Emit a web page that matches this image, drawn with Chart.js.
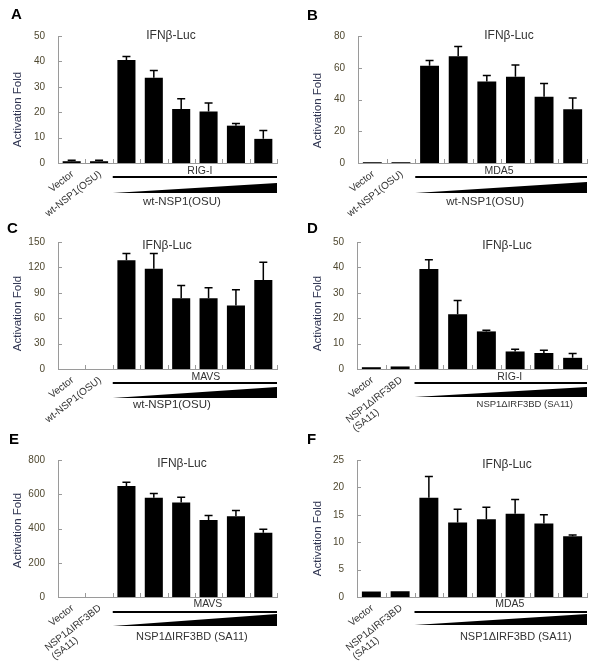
<!DOCTYPE html>
<html>
<head>
<meta charset="utf-8">
<script src="https://cdn.jsdelivr.net/npm/chart.js@4"></script>
<style>
  body { margin: 0; background: #fff; }
  #wrap { position: relative; width: 600px; height: 668px; background: #fff; }
  #wrap canvas { position: absolute; }
  .letter { position: absolute; font: bold 15px "Liberation Sans", Arial, sans-serif; line-height: 15px; color: #000; }
</style>
</head>
<body>
<div id="wrap"></div>
<script>
// values
var categoriesOSU = ['Vector', 'wt-NSP1(OSU)', '', '', '', '', '', ''];
var categoriesSA11 = ['Vector', ['NSP1ΔIRF3BD', '(SA11)'], '', '', '', '', '', ''];

var valuesA = [0.7, 0.7, 40.6, 33.6, 21.3, 20.3, 14.7, 9.5];
var errorsA = [0.4, 0.4, 1.3, 2.8, 4.0, 3.3, 0.9, 3.3];
var valuesB = [0.5, 0.5, 61.3, 67.2, 51.4, 54.3, 41.8, 33.8];
var errorsB = [0, 0, 3.3, 6.2, 3.7, 7.5, 8.3, 7.2];
var valuesC = [0, 0, 128.5, 118.5, 83.5, 83.5, 75, 105];
var errorsC = [0, 0, 8, 18, 15, 12.5, 18.5, 21];
var valuesD = [0.7, 1.0, 39.4, 21.6, 14.8, 6.9, 6.3, 4.4];
var errorsD = [0, 0, 3.6, 5.4, 0.5, 0.9, 1.1, 1.7];
var valuesE = [0, 0, 648, 580, 552, 449, 472, 375];
var errorsE = [0, 0, 22, 25, 30, 27, 33, 21];
var valuesF = [1.0, 1.05, 18.1, 13.6, 14.2, 15.2, 13.4, 11.1];
var errorsF = [0, 0, 3.9, 2.4, 2.2, 2.6, 1.6, 0.2];

var yMaxes = [50, 80, 150, 50, 800, 25];
var ySteps = [10, 20, 30, 10, 200, 5];
var stimulusLabels = ['RIG-I', 'MDA5', 'MAVS', 'RIG-I', 'MAVS', 'MDA5'];
var wedgeLabels = ['wt-NSP1(OSU)', 'wt-NSP1(OSU)', 'wt-NSP1(OSU)',
  'NSP1ΔIRF3BD (SA11)', 'NSP1ΔIRF3BD (SA11)', 'NSP1ΔIRF3BD (SA11)'];
var panelLetters = ['A', 'B', 'C', 'D', 'E', 'F'];

var FONT = '"Liberation Sans", Arial, sans-serif';

// where each panel sits on the page
var panels = [
  { cats: categoriesOSU, vals: valuesA, errs: errorsA, left: 0, top: 0, h: 220, axisX: 58, right: 277, areaTop: 36, areaBottom: 163,
    luc: [113, 0], titleDy: 10, letter: [11, 6],
    anno: { lab: 8, line: 14, wb: 30, wt: 20, txt: 39, labDx: 5, txtDx: -13, font: 11.5 } },
  { cats: categoriesOSU, vals: valuesB, errs: errorsB, left: 300, top: 0, h: 220, axisX: 58, right: 287, areaTop: 36, areaBottom: 163,
    luc: [151, 0], titleDy: 11, letter: [307, 7],
    anno: { lab: 8, line: 14, wb: 30, wt: 19, txt: 39, labDx: -2, txtDx: -16, font: 11.5 } },
  { cats: categoriesOSU, vals: valuesC, errs: errorsC, left: 0, top: 220, h: 220, axisX: 58, right: 277, areaTop: 22, areaBottom: 149,
    luc: [109, 4], titleDy: 8, letter: [7, 220],
    anno: { lab: 8, line: 14, wb: 29, wt: 18, txt: 36, labDx: 11, txtDx: -23, font: 11.5 } },
  { cats: categoriesSA11, vals: valuesD, errs: errorsD, left: 300, top: 220, h: 220, axisX: 57, right: 287, areaTop: 22, areaBottom: 149,
    luc: [150, 4], titleDy: 8, letter: [307, 220],
    anno: { lab: 8, line: 14, wb: 28, wt: 18, txt: 35, labDx: 9, txtDx: 24, font: 9.5 } },
  { cats: categoriesSA11, vals: valuesE, errs: errorsE, left: 0, top: 440, h: 228, axisX: 58, right: 277, areaTop: 20, areaBottom: 157,
    luc: [124, 4], titleDy: 2, letter: [9, 431],
    anno: { lab: 7, line: 15, wb: 29, wt: 17, txt: 40, labDx: 13, txtDx: -3, font: 11 } },
  { cats: categoriesSA11, vals: valuesF, errs: errorsF, left: 300, top: 440, h: 228, axisX: 57, right: 287, areaTop: 20, areaBottom: 157,
    luc: [150, 5], titleDy: 10, letter: [307, 431],
    anno: { lab: 7, line: 15, wb: 28, wt: 17, txt: 40, labDx: 9, txtDx: 15, font: 11 } }
];

var annotPlugin = {
  id: 'annot',
  afterDatasetsDraw: function (chart, args, o) {
    var ctx = chart.ctx, xs = chart.scales.x, ys = chart.scales.y, a = chart.chartArea;
    var ds = chart.data.datasets[0];
    var meta = chart.getDatasetMeta(0);
    ctx.save();
    // error bars (upper half only)
    ctx.strokeStyle = '#000';
    ctx.lineWidth = 1.5;
    meta.data.forEach(function (bar, i) {
      var e = ds.errors[i];
      if (!e) return;
      var y0 = ys.getPixelForValue(ds.data[i]);
      var y1 = ys.getPixelForValue(ds.data[i] + e);
      ctx.beginPath();
      ctx.moveTo(bar.x, y0); ctx.lineTo(bar.x, y1);
      ctx.moveTo(bar.x - 4, y1); ctx.lineTo(bar.x + 4, y1);
      ctx.stroke();
    });
    // tick marks point inward
    ctx.strokeStyle = '#9a9a9a';
    ctx.lineWidth = 1;
    ys.ticks.forEach(function (t) {
      var py = Math.round(ys.getPixelForValue(t.value)) + 0.5;
      ctx.beginPath(); ctx.moveTo(a.left, py); ctx.lineTo(a.left + 4, py); ctx.stroke();
    });
    var n = chart.data.labels.length;
    for (var i = 1; i <= n; i++) {
      var px = i < n ? (xs.getPixelForValue(i - 1) + xs.getPixelForValue(i)) / 2 : a.right;
      px = Math.round(px) + 0.5;
      ctx.beginPath(); ctx.moveTo(px, a.bottom); ctx.lineTo(px, a.bottom - 4); ctx.stroke();
    }
    ctx.restore();
  },
  afterDraw: function (chart, args, o) {
    var ctx = chart.ctx, xs = chart.scales.x, a = chart.chartArea;
    ctx.save();
    ctx.fillStyle = '#333';

    // IFNb-Luc
    ctx.font = '12px ' + FONT;
    ctx.textAlign = 'center';
    ctx.textBaseline = 'middle';
    ctx.fillText('IFNβ-Luc', a.left + o.luc[0], a.top + o.luc[1]);

    // y title
    ctx.save();
    ctx.translate(18, (a.top + a.bottom) / 2 + o.titleDy);
    ctx.rotate(-Math.PI / 2);
    ctx.font = '11.5px ' + FONT;
    ctx.fillStyle = '#2e3350';
    ctx.fillText('Activation Fold', 0, 0);
    ctx.restore();

    // rotated category labels
    chart.data.labels.forEach(function (lab, i) {
      if (!lab || lab === '') return;
      var lines = Array.isArray(lab) ? lab : [lab];
      ctx.save();
      ctx.translate(xs.getPixelForValue(i) + 1, a.bottom + 10);
      ctx.rotate(-38 * Math.PI / 180);
      ctx.font = '10px ' + FONT;
      ctx.textBaseline = 'middle';
      ctx.textAlign = 'right';
      ctx.fillText(lines[0], 0, 0);
      if (lines[1]) {
        var w = ctx.measureText(lines[0]).width;
        ctx.textAlign = 'left';
        ctx.fillText(lines[1], -w, 11);
      }
      ctx.restore();
    });

    // stimulus bar + dose wedge
    var an = o.anno;
    var x0 = (xs.getPixelForValue(1) + xs.getPixelForValue(2)) / 2;
    var x1 = a.right;
    var mid = (x0 + x1) / 2;
    ctx.fillStyle = '#000';
    ctx.fillRect(x0, a.bottom + an.line - 1, x1 - x0, 2);
    ctx.beginPath();
    ctx.moveTo(x0, a.bottom + an.wb);
    ctx.lineTo(x1, a.bottom + an.wb);
    ctx.lineTo(x1, a.bottom + an.wt);
    ctx.closePath();
    ctx.fill();
    ctx.fillStyle = '#333';
    ctx.textAlign = 'center';
    ctx.textBaseline = 'middle';
    ctx.font = '10.5px ' + FONT;
    ctx.fillText(o.stim, mid + an.labDx, a.bottom + an.lab);
    ctx.font = an.font + 'px ' + FONT;
    ctx.fillText(o.wedge, mid + an.txtDx, a.bottom + an.txt);
    ctx.restore();
  }
};

var wrap = document.getElementById('wrap');

panels.forEach(function (p, k) {
  var canvas = document.createElement('canvas');
  canvas.width = 300;
  canvas.height = p.h;
  canvas.style.left = p.left + 'px';
  canvas.style.top = p.top + 'px';
  wrap.appendChild(canvas);

  var letter = document.createElement('div');
  letter.className = 'letter';
  letter.textContent = panelLetters[k];
  letter.style.left = p.letter[0] + 'px';
  letter.style.top = p.letter[1] + 'px';
  wrap.appendChild(letter);

  new Chart(canvas.getContext('2d'), {
    type: 'bar',
    data: {
      labels: p.cats,
      datasets: [{
        data: p.vals,
        errors: p.errs,
        backgroundColor: '#000',
        barPercentage: 0.66,
        categoryPercentage: 1
      }]
    },
    options: {
      responsive: false,
      animation: false,
      layout: { padding: { left: 0, right: 300 - p.right, top: p.areaTop, bottom: p.h - p.areaBottom } },
      plugins: {
        legend: { display: false },
        tooltip: { enabled: false },
        annot: { luc: p.luc, titleDy: p.titleDy, anno: p.anno, stim: stimulusLabels[k], wedge: wedgeLabels[k] }
      },
      scales: {
        x: {
          grid: { display: false, drawTicks: false },
          border: { color: '#9a9a9a', width: 1 },
          ticks: { display: false }
        },
        y: {
          min: 0,
          max: yMaxes[k],
          grid: { display: false, drawTicks: false },
          border: { color: '#9a9a9a', width: 1 },
          ticks: { stepSize: ySteps[k], padding: 13, color: '#4f4830', font: { size: 10, family: FONT } },
          afterFit: function (s) { s.width = p.axisX; }
        }
      }
    },
    plugins: [annotPlugin]
  });
});
</script>
</body>
</html>
